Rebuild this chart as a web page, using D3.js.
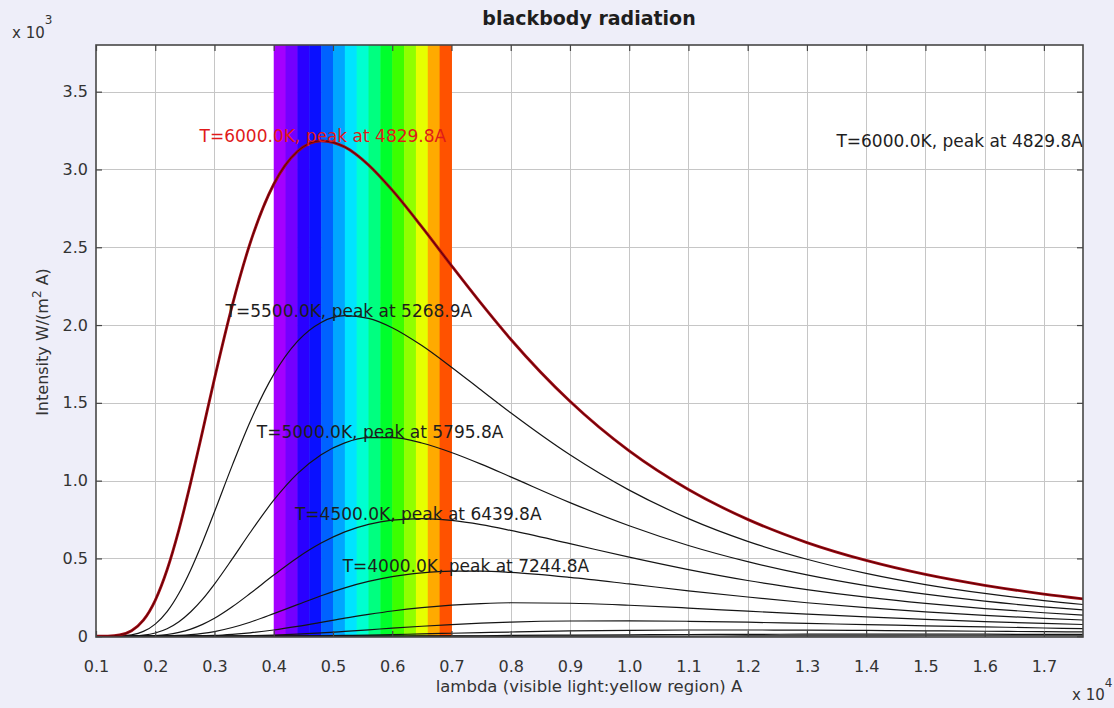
<!DOCTYPE html>
<html><head><meta charset="utf-8">
<script src="https://cdn.jsdelivr.net/npm/d3@7"></script>
<style>body{margin:0;background:#eeeef9;} svg{display:block;font-family:"DejaVu Sans",sans-serif;}</style>
</head><body><svg id="c" width="1114" height="708"></svg>
<script>
// wavelength samples (x 10^4 A)
const lambda = [0.10,0.12,0.14,0.16,0.18,0.20,0.22,0.24,0.26,0.28,0.30,0.33,0.36,0.40,0.44,0.48,0.52,0.56,0.60,0.65,0.70,0.75,0.80,0.90,1.00,1.10,1.20,1.30,1.40,1.50,1.60,1.70,1.78];
const temperatures = [6000,5500,5000,4500,4000,3500,3000,2500,2000,1500];
// intensity (x 10^3 W/(m^2 A))
const I6000 = [0,0.001,0.008,0.035,0.103,0.231,0.427,0.685,0.990,1.320,1.656,2.127,2.524,2.905,3.116,3.184,3.144,3.029,2.867,2.631,2.382,2.139,1.909,1.510,1.191,0.943,0.751,0.602,0.487,0.397,0.327,0.271,0.234];
const I5500 = [0,0,0.002,0.009,0.031,0.078,0.158,0.276,0.428,0.606,0.800,1.098,1.377,1.683,1.895,2.017,2.060,2.043,1.983,1.868,1.729,1.582,1.436,1.166,0.939,0.756,0.610,0.495,0.404,0.332,0.275,0.229,0.199];
const I5000 = [0,0,0,0.002,0.007,0.021,0.048,0.093,0.157,0.238,0.335,0.497,0.665,0.874,1.045,1.167,1.243,1.276,1.276,1.242,1.181,1.106,1.024,0.859,0.710,0.583,0.479,0.394,0.325,0.270,0.225,0.189,0.165];
const I4500 = [0,0,0,0,0.001,0.004,0.011,0.025,0.046,0.076,0.115,0.189,0.274,0.393,0.505,0.599,0.671,0.719,0.746,0.756,0.744,0.717,0.680,0.595,0.508,0.428,0.358,0.300,0.251,0.211,0.178,0.151,0.133];
const I4000 = [0,0,0,0,0,0.001,0.002,0.005,0.010,0.018,0.030,0.056,0.090,0.145,0.203,0.260,0.311,0.352,0.383,0.407,0.418,0.418,0.410,0.378,0.336,0.292,0.252,0.215,0.184,0.157,0.134,0.115,0.102];
const I3500 = [0,0,0,0,0,0,0,0.001,0.001,0.003,0.005,0.012,0.022,0.040,0.063,0.089,0.116,0.140,0.162,0.184,0.200,0.210,0.215,0.212,0.199,0.181,0.161,0.142,0.124,0.108,0.094,0.082,0.074];
const I3000 = [0,0,0,0,0,0,0,0,0,0,0.001,0.001,0.003,0.007,0.013,0.021,0.031,0.041,0.052,0.064,0.075,0.084,0.091,0.098,0.099,0.096,0.090,0.082,0.075,0.067,0.060,0.053,0.048];
const I2500 = [0,0,0,0,0,0,0,0,0,0,0,0,0,0.001,0.002,0.003,0.005,0.007,0.010,0.015,0.019,0.023,0.027,0.034,0.038,0.040,0.040,0.039,0.037,0.035,0.032,0.029,0.027];
const I2000 = [0,0,0,0,0,0,0,0,0,0,0,0,0,0,0,0,0,0.001,0.001,0.002,0.002,0.003,0.005,0.007,0.009,0.011,0.012,0.013,0.013,0.013,0.013,0.012,0.012];
const I1500 = [0,0,0,0,0,0,0,0,0,0,0,0,0,0,0,0,0,0,0,0,0,0,0,0,0.001,0.001,0.002,0.002,0.002,0.003,0.003,0.003,0.003];
// labelled peaks
const peakLabels = ["T=6000.0K, peak at 4829.8A","T=5500.0K, peak at 5268.9A","T=5000.0K, peak at 5795.8A","T=4500.0K, peak at 6439.8A","T=4000.0K, peak at 7244.8A"];
const peakLambda = [0.48298,0.52689,0.57958,0.64398,0.72448];
const peakIntensity = [3.185,2.061,1.280,0.756,0.419];
// visible band
const bandEdges = [0.40,0.42,0.44,0.46,0.48,0.50,0.52,0.54,0.56,0.58,0.60,0.62,0.64,0.66,0.68,0.70];
const bandColors = ["#a400ff","#7400ff","#2a00ff","#0a10ff","#0062ff","#00a6ff","#00e4ff","#00ffd0","#00ff80","#00ff2c","#3cff00","#90ff00","#e6ff00","#ffaa00","#ff5200"];
// ticks
const xTicks = [0.1,0.2,0.3,0.4,0.5,0.6,0.7,0.8,0.9,1.0,1.1,1.2,1.3,1.4,1.5,1.6,1.7];
const yTicks = [0,0.5,1.0,1.5,2.0,2.5,3.0,3.5];
const yTickLabels = ["0","0.5","1.0","1.5","2.0","2.5","3.0","3.5"];

const series = [I6000,I5500,I5000,I4500,I4000,I3500,I3000,I2500,I2000,I1500];
const W=1114,H=708,L=96,R=1083,T=45,B=637;
const x = d3.scaleLinear().domain([0.1,1.766]).range([L,R]);
const y = d3.scaleLinear().domain([-0.005,3.8]).range([B,T]);
const svg = d3.select("#c");
svg.append("rect").attr("width",W).attr("height",H).attr("fill","#eeeef9");
svg.append("defs").append("clipPath").attr("id","clip").append("rect")
  .attr("x",L).attr("y",T).attr("width",R-L).attr("height",B-T);
svg.append("rect").attr("x",L).attr("y",T).attr("width",R-L).attr("height",B-T).attr("fill","#ffffff");

// grid
const grid = svg.append("g").attr("stroke","#c6c6c6").attr("stroke-width",1);
grid.selectAll("line.vx").data(xTicks.slice(1)).join("line")
  .attr("x1",d=>Math.round(x(d))+0.5).attr("x2",d=>Math.round(x(d))+0.5).attr("y1",T).attr("y2",B);
grid.selectAll("line.hy").data(yTicks.slice(1)).join("line")
  .attr("y1",d=>Math.round(y(d))+0.5).attr("y2",d=>Math.round(y(d))+0.5).attr("x1",L).attr("x2",R);

// spectrum band
svg.append("g").selectAll("rect").data(bandColors).join("rect")
  .attr("x",(d,i)=>x(bandEdges[i])).attr("width",(d,i)=>x(bandEdges[i+1])-x(bandEdges[i])+0.5)
  .attr("y",T).attr("height",B-T).attr("fill",d=>d);

// curves
const line = d3.line().x((d,i)=>x(lambda[i])).y(d=>y(d)).curve(d3.curveMonotoneX);
const cg = svg.append("g").attr("clip-path","url(#clip)").attr("fill","none");
series.slice(1).forEach(s=>{
  cg.append("path").attr("d",line(s)).attr("stroke","#151515").attr("stroke-width",1.2);
});
cg.append("path").attr("d",line(I6000)).attr("stroke","#a00a14").attr("stroke-width",2.8);
cg.append("path").attr("d",line(I6000)).attr("stroke","#4a0000").attr("stroke-width",0.8);

// peak labels
svg.append("g").style("font-size","17px").attr("text-anchor","middle")
  .selectAll("text").data(peakLabels).join("text")
  .attr("x",(d,i)=>x(peakLambda[i])).attr("y",(d,i)=>y(peakIntensity[i])+1)
  .attr("fill",(d,i)=>i===0?"#e01a1a":"#1e1e1e").text(d=>d);
svg.append("text").attr("x",R).attr("y",147).attr("text-anchor","end")
  .style("font-size","17px").attr("fill","#1e1e1e").text(peakLabels[0]);

// axes
const fmt = d3.format(".1f");
const ax = svg.append("g").attr("transform",`translate(0,${B})`)
  .call(d3.axisBottom(x).tickValues(xTicks).tickSize(-6).tickPadding(24).tickFormat(fmt));
const axT = svg.append("g").attr("transform",`translate(0,${T})`)
  .call(d3.axisTop(x).tickValues(xTicks).tickSize(-6).tickFormat(""));
const ay = svg.append("g").attr("transform",`translate(${L},0)`)
  .call(d3.axisLeft(y).tickValues(yTicks).tickSize(-6).tickPadding(8).tickFormat((d,i)=>yTickLabels[i]));
const ayR = svg.append("g").attr("transform",`translate(${R},0)`)
  .call(d3.axisRight(y).tickValues(yTicks).tickSize(-6).tickFormat(""));
[ax,axT,ay,ayR].forEach(a=>{
  a.select(".domain").remove();
  a.selectAll(".tick line").attr("stroke","#444").attr("stroke-width",1.2);
  a.selectAll(".tick text").attr("fill","#333").style("font-size","16px").style("font-family","DejaVu Sans, sans-serif");
});
svg.append("rect").attr("x",L).attr("y",T).attr("width",R-L).attr("height",B-T)
  .attr("fill","none").attr("stroke","#474747").attr("stroke-width",1.6);

// titles
svg.append("text").attr("x",589).attr("y",25).attr("text-anchor","middle")
  .style("font-size","19px").style("font-weight","bold").attr("fill","#1e1e1e").text("blackbody radiation");
svg.append("text").attr("x",589).attr("y",692).attr("text-anchor","middle")
  .style("font-size","16.5px").attr("fill","#333").text("lambda (visible light:yellow region) A");
const yt = svg.append("text").attr("transform","translate(48,342) rotate(-90)").attr("text-anchor","middle")
  .style("font-size","16px").attr("fill","#333");
yt.append("tspan").text("Intensity W/(m");
yt.append("tspan").attr("dy",-7).style("font-size","12px").text("2");
yt.append("tspan").attr("dy",7).text(" A)");
// exponents
const e3 = svg.append("text").attr("x",12).attr("y",38).style("font-size","15px").attr("fill","#333");
e3.append("tspan").text("x 10");
e3.append("tspan").attr("dy",-14).style("font-size","12px").text("3");
const e4 = svg.append("text").attr("x",1072).attr("y",700).style("font-size","15px").attr("fill","#333");
e4.append("tspan").text("x 10");
e4.append("tspan").attr("dy",-13).style("font-size","12px").text("4");
</script></body></html>
